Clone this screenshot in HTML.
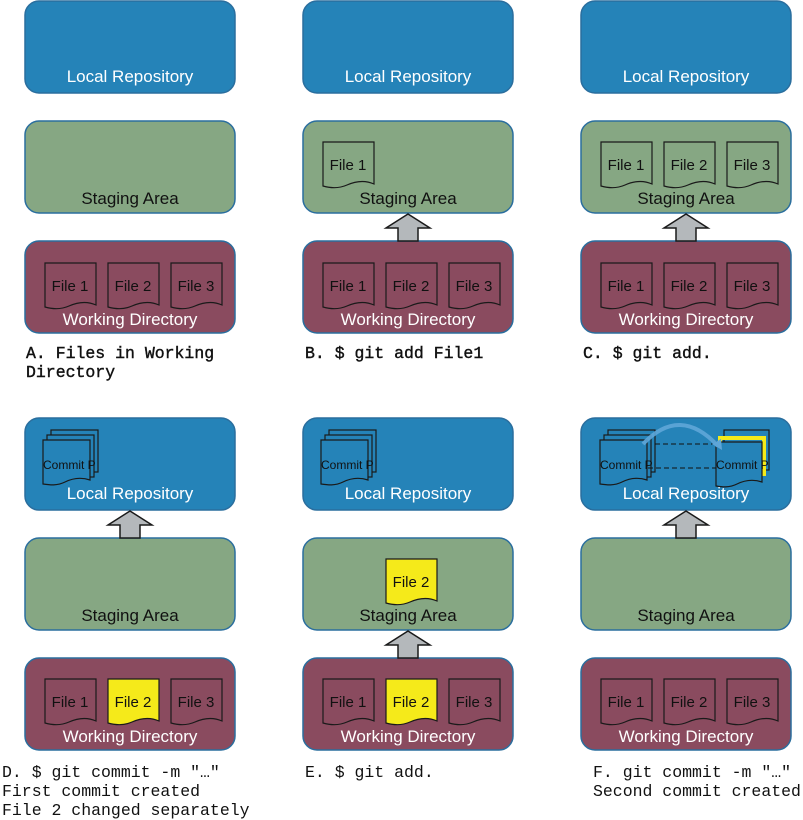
<!DOCTYPE html>
<html><head><meta charset="utf-8"><style>
html,body{margin:0;padding:0;background:#fff}
svg{display:block}
.s{font-family:"Liberation Sans",sans-serif}
.m{font-family:"Liberation Mono",monospace;font-size:16.5px;fill:#111}
</style></head><body>
<svg width="803" height="820" viewBox="0 0 803 820" xmlns="http://www.w3.org/2000/svg">
<defs>
<path id="f" d="M0,0 H51 V42 C42,38 33,39 24,43 C15,47 7,46 0,44 Z" stroke="#1a1a1a" stroke-width="1.2"/>
<g id="stack">
 <rect x="8" y="-10" width="47" height="42" fill="#2583b8" stroke="#1a1a1a" stroke-width="1.2"/>
 <rect x="4" y="-5" width="47" height="42" fill="#2583b8" stroke="#1a1a1a" stroke-width="1.2"/>
 <path d="M0,0 H47 V40 C38,37 30,38 22,42 C14,46 7,45 0,44 Z" fill="#2583b8" stroke="#1a1a1a" stroke-width="1.2"/>
 <text x="0" y="29" class="s" font-size="12" fill="#111">Commit P</text>
</g>
</defs>
<g stroke="#2a6e9e" stroke-width="1.5">
 <rect x="25" y="1" width="210" height="92" rx="14" fill="#2583b8"/>
 <rect x="303" y="1" width="210" height="92" rx="14" fill="#2583b8"/>
 <rect x="581" y="1" width="210" height="92" rx="14" fill="#2583b8"/>
 <rect x="25" y="121" width="210" height="92" rx="14" fill="#86a783"/>
 <rect x="303" y="121" width="210" height="92" rx="14" fill="#86a783"/>
 <rect x="581" y="121" width="210" height="92" rx="14" fill="#86a783"/>
 <rect x="25" y="241" width="210" height="92" rx="14" fill="#8a4b5f"/>
 <rect x="303" y="241" width="210" height="92" rx="14" fill="#8a4b5f"/>
 <rect x="581" y="241" width="210" height="92" rx="14" fill="#8a4b5f"/>
 <rect x="25" y="418" width="210" height="92" rx="14" fill="#2583b8"/>
 <rect x="303" y="418" width="210" height="92" rx="14" fill="#2583b8"/>
 <rect x="581" y="418" width="210" height="92" rx="14" fill="#2583b8"/>
 <rect x="25" y="538" width="210" height="92" rx="14" fill="#86a783"/>
 <rect x="303" y="538" width="210" height="92" rx="14" fill="#86a783"/>
 <rect x="581" y="538" width="210" height="92" rx="14" fill="#86a783"/>
 <rect x="25" y="658" width="210" height="92" rx="14" fill="#8a4b5f"/>
 <rect x="303" y="658" width="210" height="92" rx="14" fill="#8a4b5f"/>
 <rect x="581" y="658" width="210" height="92" rx="14" fill="#8a4b5f"/>
</g>
<g class="s" font-size="17" text-anchor="middle">
 <g fill="#fff">
 <text x="130" y="82">Local Repository</text><text x="408" y="82">Local Repository</text><text x="686" y="82">Local Repository</text>
 <text x="130" y="499">Local Repository</text><text x="408" y="499">Local Repository</text><text x="686" y="499">Local Repository</text>
 <text x="130" y="325">Working Directory</text><text x="408" y="325">Working Directory</text><text x="686" y="325">Working Directory</text>
 <text x="130" y="742">Working Directory</text><text x="408" y="742">Working Directory</text><text x="686" y="742">Working Directory</text>
 </g>
 <g fill="#111">
 <text x="130" y="204">Staging Area</text><text x="408" y="204">Staging Area</text><text x="686" y="204">Staging Area</text>
 <text x="130" y="621">Staging Area</text><text x="408" y="621">Staging Area</text><text x="686" y="621">Staging Area</text>
 </g>
</g>
<g fill="#b4b8bb" stroke="#1a1a1a" stroke-width="1.5">
 <polygon points="408,214 430,228 418,228 418,241 398,241 398,228 386,228"/>
 <polygon points="686,214 708,228 696,228 696,241 676,241 676,228 664,228"/>
 <polygon points="130,511 152,525 140,525 140,538 120,538 120,525 108,525"/>
 <polygon points="408,631 430,645 418,645 418,658 398,658 398,645 386,645"/>
 <polygon points="686,511 708,525 696,525 696,538 676,538 676,525 664,525"/>
</g>
<g fill="none">
 <use href="#f" x="45" y="263"/><use href="#f" x="108" y="263"/><use href="#f" x="171" y="263"/>
 <use href="#f" x="323" y="263"/><use href="#f" x="386" y="263"/><use href="#f" x="449" y="263"/>
 <use href="#f" x="601" y="263"/><use href="#f" x="664" y="263"/><use href="#f" x="727" y="263"/>
 <use href="#f" x="323" y="142"/>
 <use href="#f" x="601" y="142"/><use href="#f" x="664" y="142"/><use href="#f" x="727" y="142"/>
 <use href="#f" x="45" y="679"/><use href="#f" x="108" y="679" fill="#f5ea1a"/><use href="#f" x="171" y="679"/>
 <use href="#f" x="323" y="679"/><use href="#f" x="386" y="679" fill="#f5ea1a"/><use href="#f" x="449" y="679"/>
 <use href="#f" x="601" y="679"/><use href="#f" x="664" y="679"/><use href="#f" x="727" y="679"/>
 <use href="#f" x="386" y="559" fill="#f5ea1a"/>
</g>
<g class="s" font-size="15" fill="#111" text-anchor="middle">
 <text x="70" y="291">File 1</text><text x="133" y="291">File 2</text><text x="196" y="291">File 3</text>
 <text x="348" y="291">File 1</text><text x="411" y="291">File 2</text><text x="474" y="291">File 3</text>
 <text x="626" y="291">File 1</text><text x="689" y="291">File 2</text><text x="752" y="291">File 3</text>
 <text x="348" y="170">File 1</text>
 <text x="626" y="170">File 1</text><text x="689" y="170">File 2</text><text x="752" y="170">File 3</text>
 <text x="70" y="707">File 1</text><text x="133" y="707">File 2</text><text x="196" y="707">File 3</text>
 <text x="348" y="707">File 1</text><text x="411" y="707">File 2</text><text x="474" y="707">File 3</text>
 <text x="626" y="707">File 1</text><text x="689" y="707">File 2</text><text x="752" y="707">File 3</text>
 <text x="411" y="587">File 2</text>
</g>
<use href="#stack" x="43" y="440"/>
<use href="#stack" x="321" y="440"/>
<use href="#stack" x="600" y="440"/>
<g>
 <rect x="724" y="430" width="45" height="40" fill="#2583b8" stroke="#1a1a1a" stroke-width="1.2"/>
 <path d="M720,474 V438 H764 V476" fill="none" stroke="#f5ea1a" stroke-width="4"/>
 <path d="M716,442 H762 V482 C753,479 745,480 737,484 C729,488 722,487 716,486 Z" fill="#2583b8" stroke="#1a1a1a" stroke-width="1.2"/>
 <text x="716" y="469" class="s" font-size="12" fill="#111">Commit P</text>
</g>
<g stroke="#111" stroke-width="1" stroke-dasharray="5,3">
 <line x1="655" y1="444" x2="716" y2="444"/>
 <line x1="648" y1="468" x2="716" y2="468"/>
</g>
<path d="M643,444 Q680,405 718,446" fill="none" stroke="#5fa6d8" stroke-width="4" opacity="0.9"/>
<polygon points="712,444 722,450 721,439" fill="#5fa6d8"/>
<g class="m">
 <g stroke="#111" stroke-width="0.4">
 <text x="26" y="358">A. Files in Working</text>
 <text x="26" y="377">Directory</text>
 <text x="305" y="358">B. $ git add File1</text>
 <text x="583" y="358">C. $ git add.</text>
 </g>
 <text x="2" y="777">D. $ git commit -m "…"</text>
 <text x="2" y="796">First commit created</text>
 <text x="2" y="815">File 2 changed separately</text>
 <text x="305" y="777">E. $ git add.</text>
 <text x="593" y="777">F. git commit -m "…"</text>
 <text x="593" y="796">Second commit created</text>
</g>
</svg>
</body></html>
